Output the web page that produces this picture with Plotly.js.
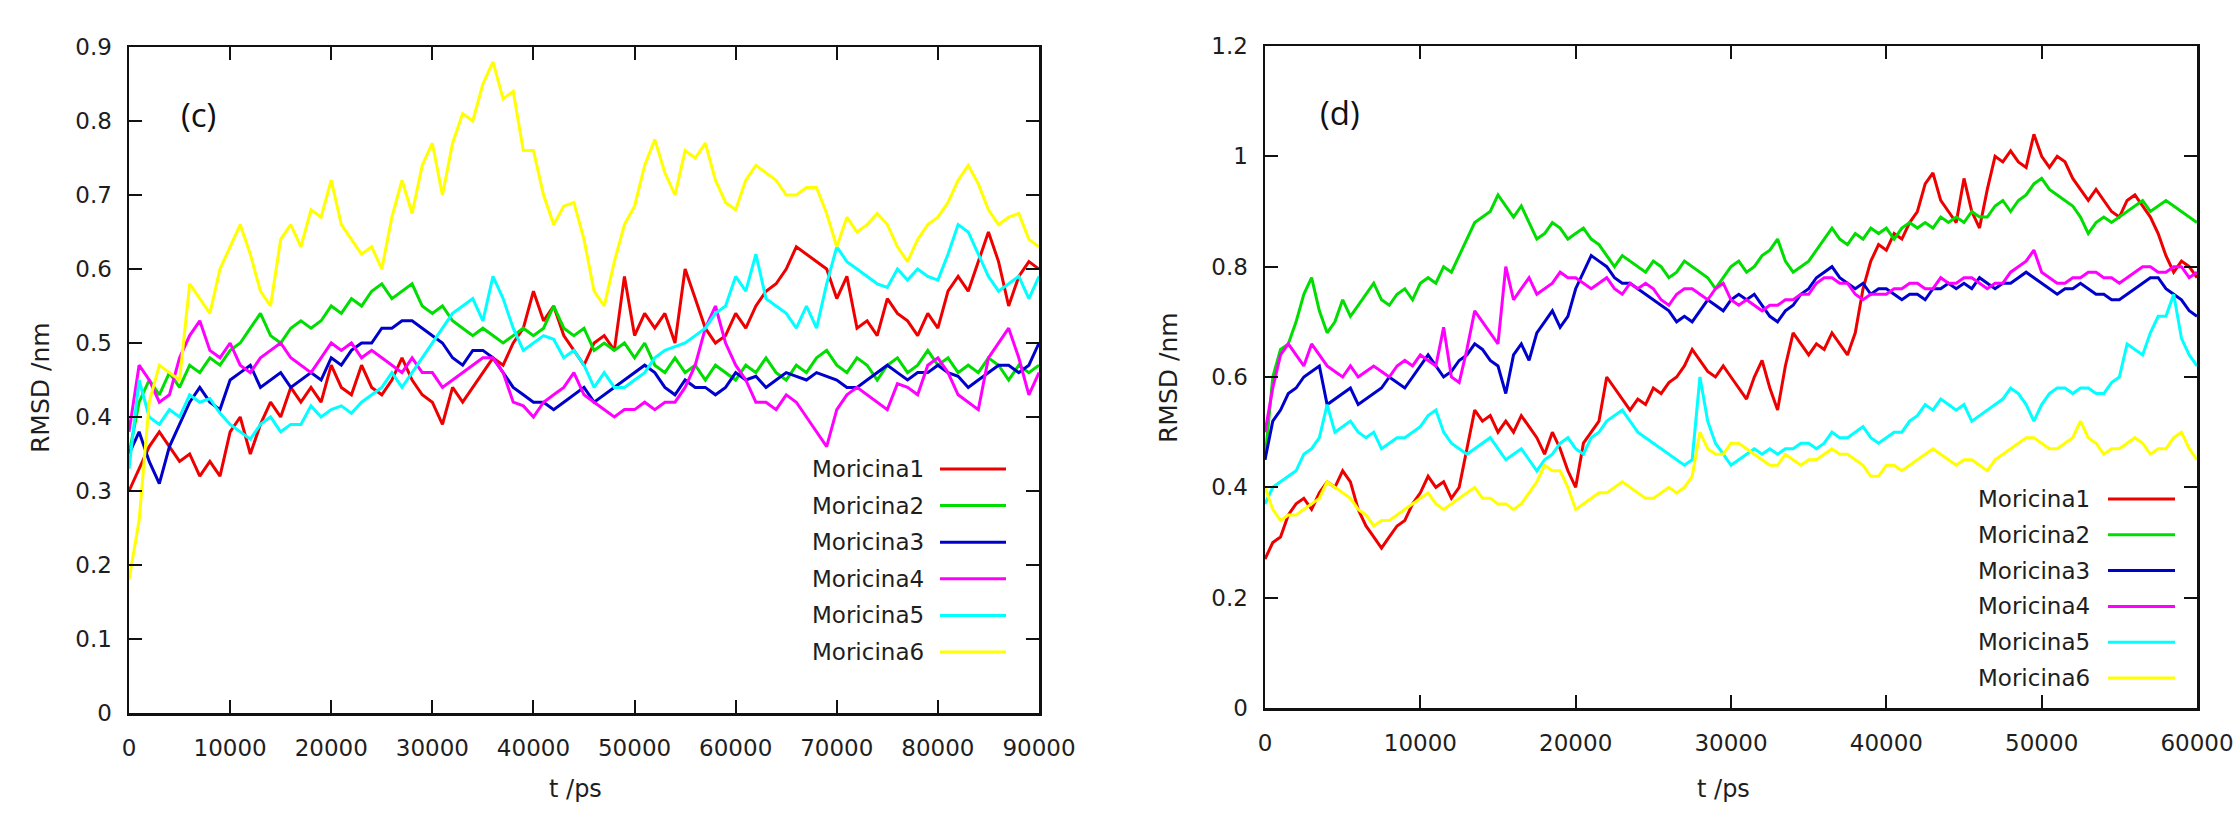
<!DOCTYPE html>
<html>
<head>
<meta charset="utf-8">
<script src="https://cdn.plot.ly/plotly-3.0.1.min.js"></script>
<style>
html,body{margin:0;padding:0;background:#fff;}
#chart{width:2238px;height:817px;}
</style>
</head>
<body>
<div id="chart"></div>
<script>
// ---------- data ----------
const seriesNames = ['Moricina1','Moricina2','Moricina3','Moricina4','Moricina5','Moricina6'];
const seriesColors = ['#ee0000','#00dd00','#0000cc','#ff00ff','#00ffff','#ffff00'];
const panelLabels = ['(c)','(d)'];
const xTitle = 't /ps';
const yTitle = 'RMSD /nm';

const stepC = 1000;   // ps between samples, panel (c)
const stepD = 500;    // ps between samples, panel (d)

// panel (c): 0..90000 ps
const rmsdC_M1 = [0.30,0.33,0.36,0.38,0.36,0.34,0.35,0.32,0.34,0.32,
 0.38,0.40,0.35,0.39,0.42,0.40,0.44,0.42,0.44,0.42,
 0.47,0.44,0.43,0.47,0.44,0.43,0.45,0.48,0.45,0.43,
 0.42,0.39,0.44,0.42,0.44,0.46,0.48,0.47,0.50,0.52,
 0.57,0.53,0.55,0.51,0.49,0.47,0.50,0.51,0.49,0.59,
 0.51,0.54,0.52,0.54,0.50,0.60,0.56,0.52,0.50,0.51,
 0.54,0.52,0.55,0.57,0.58,0.60,0.63,0.62,0.61,0.60,
 0.56,0.59,0.52,0.53,0.51,0.56,0.54,0.53,0.51,0.54,
 0.52,0.57,0.59,0.57,0.61,0.65,0.61,0.55,0.59,0.61,
 0.60];
const rmsdC_M2 = [0.35,0.42,0.45,0.43,0.46,0.44,0.47,0.46,0.48,0.47,
 0.49,0.50,0.52,0.54,0.51,0.50,0.52,0.53,0.52,0.53,
 0.55,0.54,0.56,0.55,0.57,0.58,0.56,0.57,0.58,0.55,
 0.54,0.55,0.53,0.52,0.51,0.52,0.51,0.50,0.51,0.52,
 0.51,0.52,0.55,0.52,0.51,0.52,0.49,0.50,0.49,0.50,
 0.48,0.50,0.47,0.46,0.48,0.46,0.47,0.45,0.47,0.46,
 0.45,0.47,0.46,0.48,0.46,0.45,0.47,0.46,0.48,0.49,
 0.47,0.46,0.48,0.47,0.45,0.47,0.48,0.46,0.47,0.49,
 0.47,0.48,0.46,0.47,0.46,0.48,0.47,0.45,0.47,0.46,
 0.47];
const rmsdC_M3 = [0.35,0.38,0.34,0.31,0.36,0.39,0.42,0.44,0.42,0.41,
 0.45,0.46,0.47,0.44,0.45,0.46,0.44,0.45,0.46,0.45,
 0.48,0.47,0.49,0.50,0.50,0.52,0.52,0.53,0.53,0.52,
 0.51,0.50,0.48,0.47,0.49,0.49,0.48,0.46,0.44,0.43,
 0.42,0.42,0.41,0.42,0.43,0.44,0.42,0.43,0.44,0.45,
 0.46,0.47,0.46,0.44,0.43,0.45,0.44,0.44,0.43,0.44,
 0.46,0.45,0.455,0.44,0.45,0.46,0.455,0.45,0.46,0.455,
 0.45,0.44,0.44,0.45,0.46,0.47,0.46,0.45,0.46,0.46,
 0.47,0.46,0.455,0.44,0.45,0.46,0.47,0.47,0.46,0.47,
 0.50];
const rmsdC_M4 = [0.38,0.47,0.45,0.42,0.43,0.48,0.51,0.53,0.49,0.48,
 0.50,0.47,0.46,0.48,0.49,0.50,0.48,0.47,0.46,0.48,
 0.50,0.49,0.50,0.48,0.49,0.48,0.47,0.46,0.48,0.46,
 0.46,0.44,0.45,0.46,0.47,0.48,0.48,0.46,0.42,0.415,
 0.40,0.42,0.43,0.44,0.46,0.43,0.42,0.41,0.40,0.41,
 0.41,0.42,0.41,0.42,0.42,0.44,0.47,0.52,0.55,0.50,
 0.47,0.45,0.42,0.42,0.41,0.43,0.42,0.40,0.38,0.36,
 0.41,0.43,0.44,0.43,0.42,0.41,0.445,0.44,0.43,0.47,
 0.48,0.46,0.43,0.42,0.41,0.48,0.50,0.52,0.48,0.43,
 0.46];
const rmsdC_M5 = [0.33,0.45,0.40,0.39,0.41,0.40,0.43,0.42,0.425,0.405,
 0.39,0.38,0.37,0.39,0.40,0.38,0.39,0.39,0.415,0.40,
 0.41,0.415,0.405,0.42,0.43,0.44,0.46,0.44,0.46,0.48,
 0.50,0.52,0.54,0.55,0.56,0.53,0.59,0.56,0.52,0.49,
 0.50,0.51,0.505,0.48,0.49,0.47,0.44,0.46,0.44,0.44,
 0.45,0.46,0.48,0.49,0.495,0.50,0.51,0.52,0.54,0.55,
 0.59,0.57,0.62,0.56,0.55,0.54,0.52,0.55,0.52,0.58,
 0.63,0.61,0.60,0.59,0.58,0.575,0.60,0.585,0.60,0.59,
 0.585,0.62,0.66,0.65,0.62,0.59,0.57,0.58,0.59,0.56,
 0.59];
const rmsdC_M6 = [0.18,0.26,0.42,0.47,0.46,0.45,0.58,0.56,0.54,0.60,
 0.63,0.66,0.62,0.57,0.55,0.64,0.66,0.63,0.68,0.67,
 0.72,0.66,0.64,0.62,0.63,0.60,0.67,0.72,0.675,0.74,
 0.77,0.70,0.77,0.81,0.80,0.85,0.88,0.83,0.84,0.76,
 0.76,0.70,0.66,0.685,0.69,0.64,0.57,0.55,0.61,0.66,
 0.685,0.74,0.775,0.73,0.70,0.76,0.75,0.77,0.72,0.69,
 0.68,0.72,0.74,0.73,0.72,0.70,0.70,0.71,0.71,0.675,
 0.63,0.67,0.65,0.66,0.675,0.66,0.63,0.61,0.64,0.66,
 0.67,0.69,0.72,0.74,0.715,0.68,0.66,0.67,0.675,0.64,
 0.63];

// panel (d): 0..60000 ps
const rmsdD_M1 = [0.27,0.30,0.31,0.35,0.37,0.38,0.36,0.39,0.41,0.40,
 0.43,0.41,0.36,0.33,0.31,0.29,0.31,0.33,0.34,0.37,
 0.39,0.42,0.40,0.41,0.38,0.40,0.47,0.54,0.52,0.53,
 0.50,0.52,0.50,0.53,0.51,0.49,0.46,0.50,0.47,0.43,
 0.40,0.48,0.50,0.52,0.60,0.58,0.56,0.54,0.56,0.55,
 0.58,0.57,0.59,0.60,0.62,0.65,0.63,0.61,0.60,0.62,
 0.60,0.58,0.56,0.60,0.63,0.58,0.54,0.62,0.68,0.66,
 0.64,0.66,0.65,0.68,0.66,0.64,0.68,0.76,0.81,0.84,
 0.83,0.86,0.85,0.88,0.90,0.95,0.97,0.92,0.90,0.88,
 0.96,0.90,0.87,0.94,1.00,0.99,1.01,0.99,0.98,1.04,
 1.00,0.98,1.00,0.99,0.96,0.94,0.92,0.94,0.92,0.90,
 0.89,0.92,0.93,0.91,0.89,0.86,0.82,0.79,0.81,0.80,
 0.78];
const rmsdD_M2 = [0.45,0.60,0.65,0.66,0.70,0.75,0.78,0.72,0.68,0.70,
 0.74,0.71,0.73,0.75,0.77,0.74,0.73,0.75,0.76,0.74,
 0.77,0.78,0.77,0.80,0.79,0.82,0.85,0.88,0.89,0.90,
 0.93,0.91,0.89,0.91,0.88,0.85,0.86,0.88,0.87,0.85,
 0.86,0.87,0.85,0.84,0.82,0.80,0.82,0.81,0.80,0.79,
 0.81,0.80,0.78,0.79,0.81,0.80,0.79,0.78,0.76,0.78,
 0.80,0.81,0.79,0.80,0.82,0.83,0.85,0.81,0.79,0.80,
 0.81,0.83,0.85,0.87,0.85,0.84,0.86,0.85,0.87,0.86,
 0.87,0.85,0.87,0.88,0.87,0.88,0.87,0.89,0.88,0.89,
 0.88,0.90,0.89,0.89,0.91,0.92,0.90,0.92,0.93,0.95,
 0.96,0.94,0.93,0.92,0.91,0.89,0.86,0.88,0.89,0.88,
 0.89,0.90,0.91,0.92,0.90,0.91,0.92,0.91,0.90,0.89,
 0.88];
const rmsdD_M3 = [0.45,0.52,0.54,0.57,0.58,0.60,0.61,0.62,0.55,0.56,
 0.57,0.58,0.55,0.56,0.57,0.58,0.60,0.59,0.58,0.60,
 0.62,0.64,0.62,0.60,0.61,0.63,0.64,0.66,0.65,0.63,
 0.62,0.57,0.64,0.66,0.63,0.68,0.70,0.72,0.69,0.71,
 0.76,0.79,0.82,0.81,0.80,0.78,0.77,0.77,0.76,0.75,
 0.74,0.73,0.72,0.70,0.71,0.70,0.72,0.74,0.73,0.72,
 0.74,0.75,0.74,0.75,0.73,0.71,0.70,0.72,0.73,0.75,
 0.76,0.78,0.79,0.80,0.78,0.77,0.76,0.77,0.75,0.76,
 0.76,0.75,0.74,0.75,0.75,0.74,0.76,0.76,0.77,0.76,
 0.77,0.76,0.78,0.77,0.76,0.77,0.77,0.78,0.79,0.78,
 0.77,0.76,0.75,0.76,0.76,0.77,0.76,0.75,0.75,0.74,
 0.74,0.75,0.76,0.77,0.78,0.78,0.76,0.75,0.74,0.72,
 0.71];
const rmsdD_M4 = [0.50,0.58,0.64,0.66,0.64,0.62,0.66,0.64,0.62,0.61,
 0.60,0.62,0.60,0.61,0.62,0.61,0.60,0.62,0.63,0.62,
 0.64,0.63,0.62,0.69,0.60,0.59,0.65,0.72,0.70,0.68,
 0.66,0.80,0.74,0.76,0.78,0.75,0.76,0.77,0.79,0.78,
 0.78,0.77,0.76,0.77,0.78,0.76,0.75,0.77,0.76,0.77,
 0.76,0.74,0.73,0.75,0.76,0.76,0.75,0.74,0.76,0.77,
 0.74,0.73,0.74,0.73,0.72,0.73,0.73,0.74,0.74,0.75,
 0.75,0.77,0.78,0.78,0.77,0.77,0.75,0.74,0.75,0.75,
 0.75,0.76,0.76,0.77,0.77,0.76,0.76,0.78,0.77,0.77,
 0.78,0.78,0.77,0.76,0.77,0.77,0.79,0.80,0.81,0.83,
 0.79,0.78,0.77,0.77,0.78,0.78,0.79,0.79,0.78,0.78,
 0.77,0.78,0.79,0.80,0.80,0.79,0.79,0.80,0.80,0.78,
 0.79];
const rmsdD_M5 = [0.37,0.40,0.41,0.42,0.43,0.46,0.47,0.49,0.55,0.50,
 0.51,0.52,0.50,0.49,0.50,0.47,0.48,0.49,0.49,0.50,
 0.51,0.53,0.54,0.50,0.48,0.47,0.46,0.47,0.48,0.49,
 0.47,0.45,0.46,0.47,0.45,0.43,0.45,0.46,0.48,0.49,
 0.47,0.46,0.49,0.50,0.52,0.53,0.54,0.52,0.50,0.49,
 0.48,0.47,0.46,0.45,0.44,0.45,0.60,0.52,0.48,0.46,
 0.44,0.45,0.46,0.47,0.46,0.47,0.46,0.47,0.47,0.48,
 0.48,0.47,0.48,0.50,0.49,0.49,0.50,0.51,0.49,0.48,
 0.49,0.50,0.50,0.52,0.53,0.55,0.54,0.56,0.55,0.54,
 0.55,0.52,0.53,0.54,0.55,0.56,0.58,0.57,0.55,0.52,
 0.55,0.57,0.58,0.58,0.57,0.58,0.58,0.57,0.57,0.59,
 0.60,0.66,0.65,0.64,0.68,0.71,0.71,0.75,0.67,0.64,
 0.62];
const rmsdD_M6 = [0.40,0.36,0.34,0.35,0.35,0.36,0.37,0.38,0.41,0.40,
 0.39,0.38,0.36,0.35,0.33,0.34,0.34,0.35,0.36,0.37,
 0.38,0.39,0.37,0.36,0.37,0.38,0.39,0.40,0.38,0.38,
 0.37,0.37,0.36,0.37,0.39,0.41,0.44,0.43,0.43,0.40,
 0.36,0.37,0.38,0.39,0.39,0.40,0.41,0.40,0.39,0.38,
 0.38,0.39,0.40,0.39,0.40,0.42,0.50,0.47,0.46,0.46,
 0.48,0.48,0.47,0.46,0.45,0.44,0.44,0.46,0.45,0.44,
 0.45,0.45,0.46,0.47,0.46,0.46,0.45,0.44,0.42,0.42,
 0.44,0.44,0.43,0.44,0.45,0.46,0.47,0.46,0.45,0.44,
 0.45,0.45,0.44,0.43,0.45,0.46,0.47,0.48,0.49,0.49,
 0.48,0.47,0.47,0.48,0.49,0.52,0.49,0.48,0.46,0.47,
 0.47,0.48,0.49,0.48,0.46,0.47,0.47,0.49,0.50,0.47,
 0.45];

const panelC = [rmsdC_M1, rmsdC_M2, rmsdC_M3, rmsdC_M4, rmsdC_M5, rmsdC_M6];
const panelD = [rmsdD_M1, rmsdD_M2, rmsdD_M3, rmsdD_M4, rmsdD_M5, rmsdD_M6];

// ---------- layout geometry (pixels) ----------
const W = 2238, H = 817;
const px = v => v / W;
const py = v => 1 - v / H;
const TXT = '#1e1e1e';
const FONT = 'DejaVu Sans, Verdana, sans-serif';

const traces = [];
panelC.forEach((ys, k) => {
  traces.push({
    type: 'scatter', mode: 'lines', name: seriesNames[k],
    x: ys.map((_, i) => i * stepC), y: ys,
    xaxis: 'x', yaxis: 'y', showlegend: false,
    line: {color: seriesColors[k], width: 3}
  });
});
panelD.forEach((ys, k) => {
  traces.push({
    type: 'scatter', mode: 'lines', name: seriesNames[k],
    x: ys.map((_, i) => i * stepD), y: ys,
    xaxis: 'x2', yaxis: 'y2', showlegend: false,
    line: {color: seriesColors[k], width: 3}
  });
});

const axisBase = {
  showline: true, linecolor: '#111', linewidth: 2.5, mirror: 'ticks',
  ticks: 'inside', ticklen: 13, tickwidth: 2, tickcolor: '#111',
  showgrid: false, zeroline: false, fixedrange: true,
  tickfont: {family: FONT, size: 23, color: TXT}
};

const layout = {
  width: W, height: H,
  margin: {l: 0, r: 0, t: 0, b: 0},
  paper_bgcolor: '#fff', plot_bgcolor: '#fff',
  showlegend: false,
  xaxis: Object.assign({}, axisBase, {
    domain: [px(129), px(1039)], anchor: 'y',
    range: [0, 90000], tickmode: 'linear', tick0: 0, dtick: 10000,
    tickformat: 'd', ticklabelstandoff: 13
  }),
  yaxis: Object.assign({}, axisBase, {
    domain: [1 - 713 / H, 1 - 47 / H], anchor: 'x',
    range: [0, 0.9], tickmode: 'linear', tick0: 0, dtick: 0.1,
    ticklabelstandoff: 10
  }),
  xaxis2: Object.assign({}, axisBase, {
    domain: [px(1265), px(2197)], anchor: 'y2',
    range: [0, 60000], tickmode: 'linear', tick0: 0, dtick: 10000,
    tickformat: 'd', ticklabelstandoff: 13
  }),
  yaxis2: Object.assign({}, axisBase, {
    domain: [1 - 708 / H, 1 - 46 / H], anchor: 'x2',
    range: [0, 1.2], tickmode: 'linear', tick0: 0, dtick: 0.2,
    ticklabelstandoff: 10
  }),
  annotations: [],
  shapes: []
};

// axis titles
[[575, 789, 40, 388], [1723, 789, 1168, 378]].forEach(([xtx, xty, ytx, yty]) => {
  layout.annotations.push({xref: 'paper', yref: 'paper', x: px(xtx), y: py(xty),
    xanchor: 'center', yanchor: 'middle', showarrow: false, text: xTitle,
    font: {family: FONT, size: 24, color: TXT}});
  layout.annotations.push({xref: 'paper', yref: 'paper', x: px(ytx), y: py(yty),
    xanchor: 'center', yanchor: 'middle', showarrow: false, text: yTitle, textangle: -90,
    font: {family: FONT, size: 25, color: TXT}});
});

// panel labels
[[198, 115], [1340, 112]].forEach(([x, y], i) => {
  layout.annotations.push({xref: 'paper', yref: 'paper', x: px(x), y: py(y),
    xanchor: 'center', yanchor: 'middle', showarrow: false, text: panelLabels[i],
    font: {family: 'Open Sans, Noto Sans, sans-serif', size: 33, color: '#111'}});
});

// gnuplot-style keys: text right-aligned, sample line to its right
const keys = [
  {textRight: 926, lineX0: 940, lineX1: 1006, row0: 469, rowStep: 36.6},
  {textRight: 2092, lineX0: 2108, lineX1: 2175, row0: 499, rowStep: 35.8}
];
keys.forEach(k => {
  seriesNames.forEach((name, i) => {
    const yy = k.row0 + i * k.rowStep;
    layout.annotations.push({xref: 'paper', yref: 'paper', x: px(k.textRight), y: py(yy),
      xanchor: 'right', yanchor: 'middle', showarrow: false, text: name,
      font: {family: FONT, size: 23, color: TXT}});
    layout.shapes.push({type: 'line', xref: 'paper', yref: 'paper',
      x0: px(k.lineX0), x1: px(k.lineX1), y0: py(yy), y1: py(yy),
      line: {color: seriesColors[i], width: 3}});
  });
});

Plotly.newPlot('chart', traces, layout, {staticPlot: true, displayModeBar: false});
</script>
</body>
</html>
